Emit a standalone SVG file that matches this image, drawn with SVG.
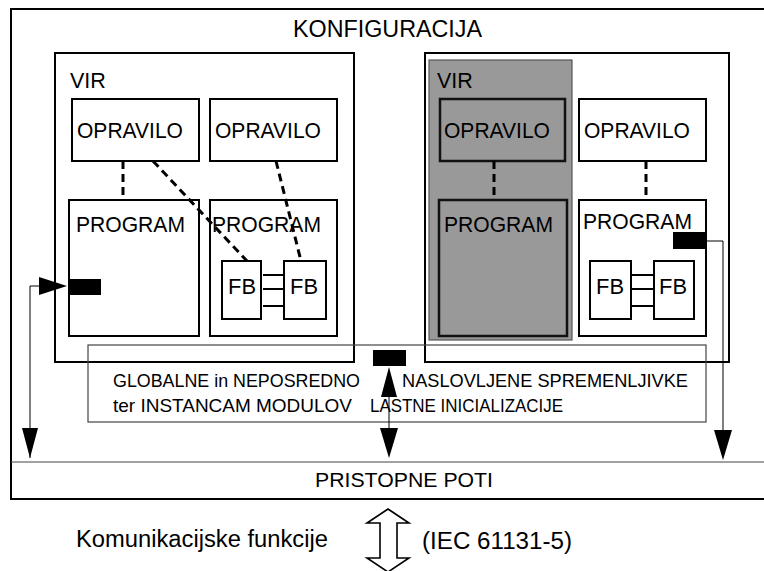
<svg xmlns="http://www.w3.org/2000/svg" width="764" height="571" viewBox="0 0 764 571">
  <defs>
    <style>
      text { font-family: "Liberation Sans", Arial, sans-serif; fill: #000; }
      .lbl { font-size: 21.5px; }
      .big { font-size: 23px; }
      .small { font-size: 18.5px; }
      .box { fill: #fff; stroke: #000; stroke-width: 2; }
      .frame { fill: none; stroke: #000; stroke-width: 2; }
      .dark { fill: #999; stroke: #111; stroke-width: 2.5; }
      .thin { fill: none; stroke: #444; stroke-width: 1.2; }
      .dash { fill: none; stroke: #000; stroke-width: 3; stroke-dasharray: 8 5; }
      .wire { fill: none; stroke: #000; stroke-width: 1; }
      .bus { fill: none; stroke: #000; stroke-width: 2; }
      .port { fill: #000; }
    </style>
  </defs>

  <rect width="764" height="571" fill="#fff"/>

  <!-- configuration frame -->
  <g id="konfiguracija">
    <path class="frame" d="M770 9 H11 V499 H770"/>
    <text class="big" x="293" y="37" textLength="189" lengthAdjust="spacingAndGlyphs">KONFIGURACIJA</text>
  </g>

  <!-- access paths band -->
  <g id="pristopne-poti">
    <line class="thin" x1="11" y1="462" x2="770" y2="462"/>
    <text x="315" y="487" font-size="20" textLength="178" lengthAdjust="spacingAndGlyphs">PRISTOPNE POTI</text>
  </g>

  <!-- left resource -->
  <g id="vir-1">
    <rect class="frame" x="55" y="53" width="299" height="309"/>
    <text class="lbl" x="70" y="88">VIR</text>
  </g>
  <g id="opravilo-1">
    <rect class="box" x="72" y="99" width="127" height="62"/>
    <text class="lbl" x="77" y="138" textLength="106" lengthAdjust="spacingAndGlyphs">OPRAVILO</text>
  </g>
  <g id="opravilo-2">
    <rect class="box" x="210" y="99" width="127" height="62"/>
    <text class="lbl" x="215" y="138" textLength="106" lengthAdjust="spacingAndGlyphs">OPRAVILO</text>
  </g>
  <g id="program-1">
    <rect class="box" x="69" y="200" width="130" height="136"/>
    <text class="lbl" x="76" y="232" textLength="109" lengthAdjust="spacingAndGlyphs">PROGRAM</text>
    <rect class="port" x="68" y="279" width="33" height="16"/>
  </g>
  <g id="program-2">
    <rect class="box" x="210" y="200" width="127" height="136"/>
    <text class="lbl" x="212" y="232" textLength="109" lengthAdjust="spacingAndGlyphs">PROGRAM</text>
  </g>
  <g id="fb-1">
    <rect class="box" x="222" y="261" width="39" height="58"/>
    <text class="lbl" x="228" y="294" textLength="28" lengthAdjust="spacingAndGlyphs">FB</text>
  </g>
  <g id="fb-2">
    <rect class="box" x="284" y="261" width="42" height="58"/>
    <text class="lbl" x="290" y="294" textLength="28" lengthAdjust="spacingAndGlyphs">FB</text>
  </g>

  <!-- right resource -->
  <g id="vir-2">
    <rect class="frame" x="425" y="53" width="304" height="309"/>
  </g>
  <g id="vir-3">
    <rect x="429" y="60" width="143" height="280" fill="#999" stroke="#555" stroke-width="1.2"/>
    <text class="lbl" x="437" y="88">VIR</text>
  </g>
  <g id="opravilo-3">
    <rect class="dark" x="440" y="99" width="125" height="62"/>
    <text class="lbl" x="444" y="138" textLength="106" lengthAdjust="spacingAndGlyphs">OPRAVILO</text>
  </g>
  <g id="program-3">
    <rect class="dark" x="439" y="200" width="128" height="136"/>
    <text class="lbl" x="444" y="232" textLength="109" lengthAdjust="spacingAndGlyphs">PROGRAM</text>
  </g>
  <g id="opravilo-4">
    <rect class="box" x="579" y="99" width="127" height="62"/>
    <text class="lbl" x="584" y="138" textLength="106" lengthAdjust="spacingAndGlyphs">OPRAVILO</text>
  </g>
  <g id="program-4">
    <rect class="box" x="579" y="200" width="127" height="136"/>
    <text class="lbl" x="583" y="229" textLength="109" lengthAdjust="spacingAndGlyphs">PROGRAM</text>
    <rect class="port" x="673" y="232" width="33" height="17"/>
  </g>
  <g id="fb-3">
    <rect class="box" x="590" y="261" width="41" height="58"/>
    <text class="lbl" x="596" y="294" textLength="28" lengthAdjust="spacingAndGlyphs">FB</text>
  </g>
  <g id="fb-4">
    <rect class="box" x="654" y="261" width="40" height="58"/>
    <text class="lbl" x="659" y="294" textLength="28" lengthAdjust="spacingAndGlyphs">FB</text>
  </g>

  <!-- global and directly addressed variables -->
  <g id="globalne">
    <rect class="thin" x="88" y="345" width="618" height="77"/>
    <rect class="port" x="373" y="350" width="33" height="16"/>
    <text class="small" x="113" y="387" textLength="247" lengthAdjust="spacingAndGlyphs">GLOBALNE in NEPOSREDNO</text>
    <text class="small" x="402" y="387" textLength="286" lengthAdjust="spacingAndGlyphs">NASLOVLJENE SPREMENLJIVKE</text>
    <text class="small" x="113" y="412" textLength="239" lengthAdjust="spacingAndGlyphs">ter INSTANCAM MODULOV</text>
    <text class="small" x="370" y="412" textLength="193" lengthAdjust="spacingAndGlyphs">LASTNE INICIALIZACIJE</text>
  </g>

  <!-- communication functions -->
  <g id="komunikacija">
    <text class="big" x="76" y="547" textLength="252" lengthAdjust="spacingAndGlyphs">Komunikacijske funkcije</text>
    <path d="M388 509 L409 523 H397 V558 H409 L388 572 L367 558 H380 V523 H367 Z" fill="#fff" stroke="#000" stroke-width="1.6" stroke-linejoin="miter"/>
    <text class="big" x="422" y="549" textLength="150" lengthAdjust="spacingAndGlyphs">(IEC 61131-5)</text>
  </g>

  <!-- connectors -->
  <g id="connectors">
    <!-- task to program associations -->
    <line class="dash" x1="123" y1="161" x2="123" y2="200"/>
    <line class="dash" x1="153" y1="161" x2="247" y2="261"/>
    <line class="dash" x1="276" y1="161" x2="301" y2="261"/>
    <line class="dash" x1="494" y1="161" x2="494" y2="200"/>
    <line class="dash" x1="646" y1="161" x2="646" y2="200"/>

    <!-- function block links -->
    <line class="bus" x1="263" y1="275" x2="284" y2="275"/>
    <line class="bus" x1="263" y1="289" x2="284" y2="289"/>
    <line class="bus" x1="263" y1="306" x2="284" y2="306"/>
    <line class="bus" x1="632" y1="275" x2="654" y2="275"/>
    <line class="bus" x1="632" y1="289" x2="654" y2="289"/>
    <line class="bus" x1="632" y1="306" x2="654" y2="306"/>

    <!-- access path into left program -->
    <polyline class="wire" points="30,458 30,286 40,286"/>
    <polygon points="39,277 67,286 39,295"/>
    <polygon points="22,428 38,428 30,458"/>

    <!-- global variable access -->
    <line class="wire" x1="389" y1="380" x2="389" y2="430"/>
    <polygon points="389,367 397,397 381,397"/>
    <polygon points="380,428 398,428 389,458"/>

    <!-- access path from right program -->
    <polyline class="wire" points="706,241 723,241 723,432"/>
    <polygon points="714,430 732,430 723,460"/>
  </g>
</svg>
